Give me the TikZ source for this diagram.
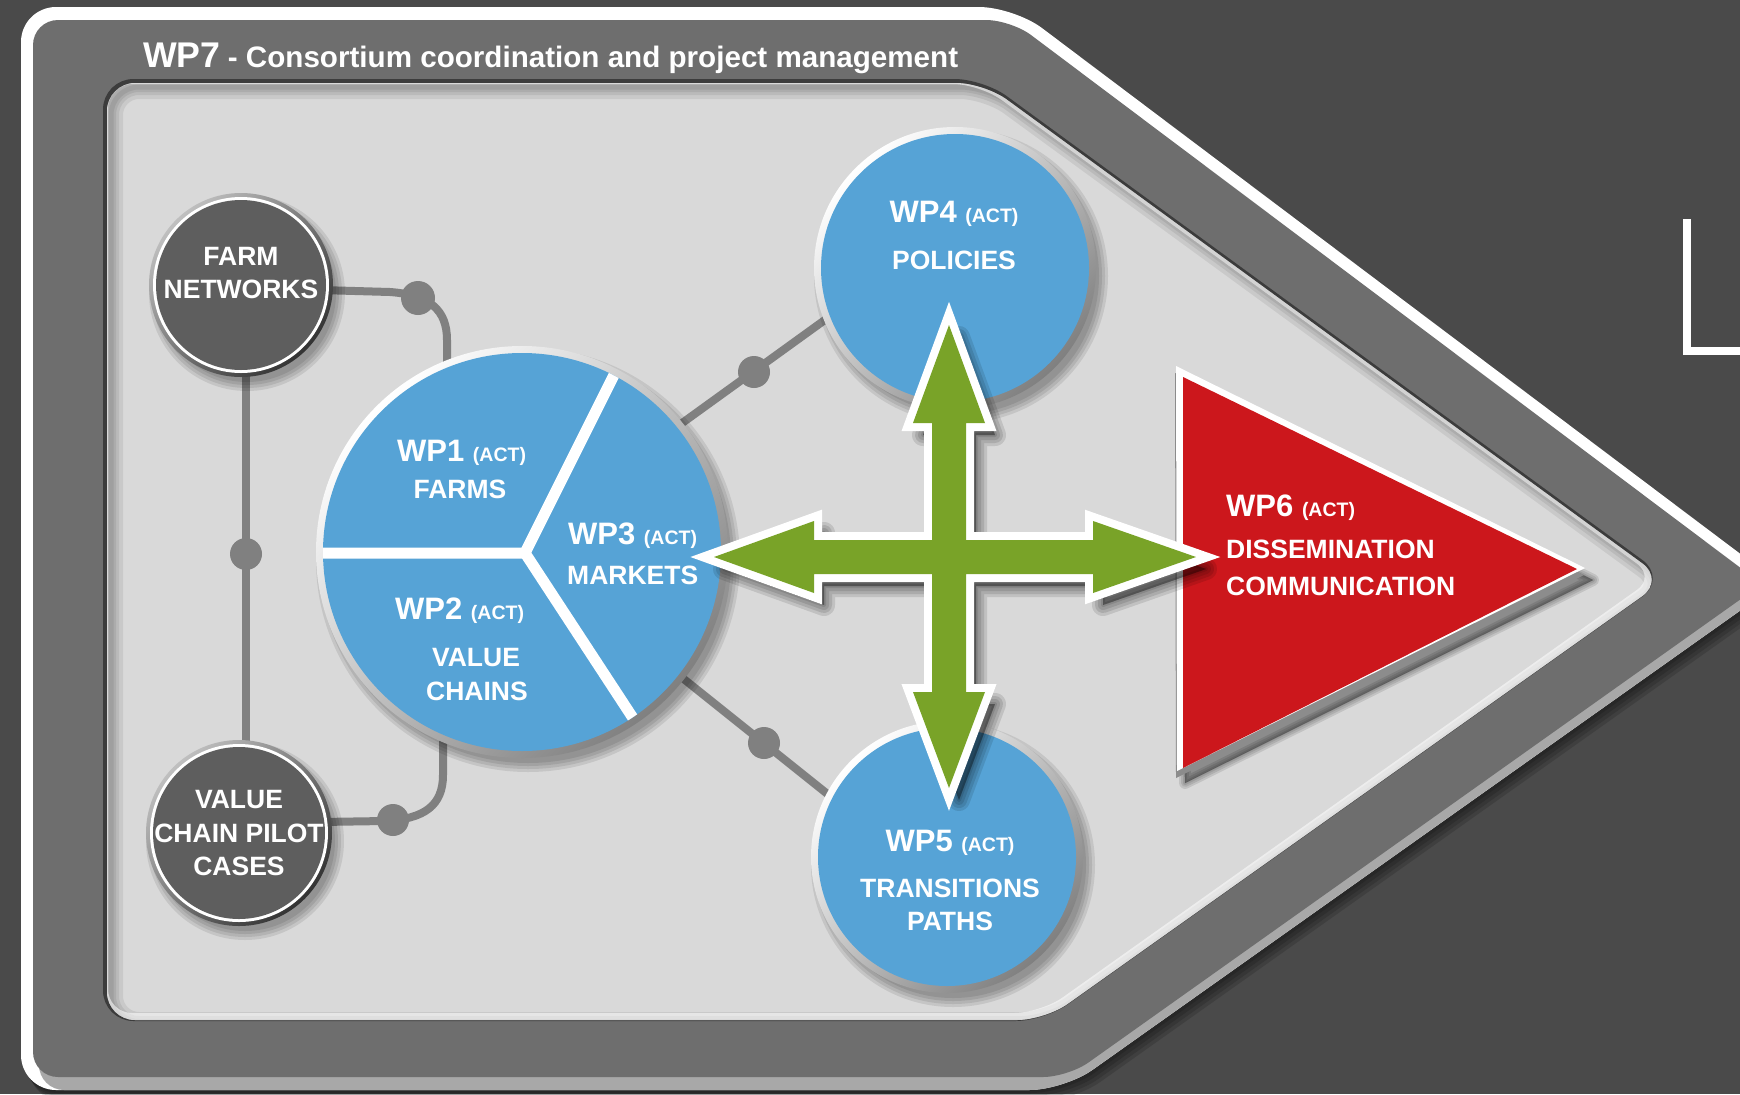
\documentclass[tikz,border=0pt]{standalone}
\usepackage{fontspec}
\setmainfont{Liberation Sans}
\usetikzlibrary{calc}
\definecolor{bgc}{HTML}{4A4A4A}
\definecolor{band}{HTML}{6E6E6E}
\definecolor{bevel}{HTML}{A8A8A8}
\definecolor{panel}{HTML}{D9D9D9}
\definecolor{wpblue}{HTML}{56A3D6}
\definecolor{darkc}{HTML}{5E5E5E}
\definecolor{wpgreen}{HTML}{79A328}
\definecolor{wpred}{HTML}{CC171C}
\definecolor{conn}{HTML}{808080}
\newcommand\bigf{\fontsize{31bp}{31bp}\selectfont}
\newcommand\namef{\fontsize{26.5bp}{26.5bp}\selectfont}
\newcommand\actf{\fontsize{19.5bp}{19.5bp}\selectfont}
\newcommand\wpl[1]{{\bigf #1\ }{\actf (ACT)}}
\newcommand\softshadow[2]{%
  \foreach \w in {10,7,4,1} {\fill[black,opacity=.09] ($(#1)+(6,8)$) circle ({#2+\w-4});}}
\newcommand\wpcirc[3]{%
  \softshadow{#1}{#2}
  \shade[top color=white, bottom color=black!50, shading angle=45] (#1) circle (#2);
  \fill[#3] (#1) circle ({#2-7});}
\newcommand\darkcirc[2]{%
  \softshadow{#1}{#2}
  \shade[top color=black!25, bottom color=black!80, shading angle=45] (#1) circle (#2);
  \fill[white] (#1) circle ({#2-4});
  \fill[darkc] (#1) circle ({#2-7});}
\tikzset{
  outerP/.style={insert path={(21,7) -- (1014,7) -- (1779,583) -- (1064,1090) -- (21,1090) -- cycle}},
  bandP/.style={insert path={(33,20) -- (1011,20) -- (1762,584) -- (1068,1077) -- (33,1077) -- cycle}},
  innerP/.style={insert path={(107,83) -- (984,83) -- (1665,580) -- (1045,1020) -- (107,1020) -- cycle}},
  crossP/.style={insert path={(949,325) -- (985,423) -- (966,423) -- (966,540) -- (1093,540) -- (1093,521) -- (1196,557) -- (1093,593) -- (1093,574) -- (966,574) -- (966,692) -- (985,692) -- (949,788) -- (913,692) -- (932,692) -- (932,574) -- (814,574) -- (814,593) -- (714,557) -- (814,521) -- (814,540) -- (932,540) -- (932,423) -- (913,423) -- cycle}},
  triW/.style={insert path={(1176,366) -- (1585,568) -- (1177,771) -- cycle}},
  triR/.style={insert path={(1183,377) -- (1577,569) -- (1183,768) -- cycle}},
  connector/.style={draw=conn, line width=8bp},
  txt/.style={text=white, inner sep=0pt, font=\bfseries\namef},
}
\begin{document}
\begin{tikzpicture}[x=1bp,y=-1bp]
\useasboundingbox (0,0) rectangle (1740,1094);
\fill[bgc] (0,0) rectangle (1740,1094);
% logo fragment
\draw[white, line width=8bp] (1687,219) -- (1687,351) -- (1745,351);
% outer panel
\foreach \k in {1,2,3,4} {\fill[black,opacity=.14, rounded corners=35bp, shift={({2*\k},{3*\k})}, outerP];}
\fill[white, rounded corners=35bp, outerP];
\begin{scope}
  \clip[rounded corners=35bp, outerP];
  \fill[bevel, rounded corners=25bp, shift={(6,13)}, bandP];
\end{scope}
\fill[band, rounded corners=25bp, bandP];
% title
\node[txt, anchor=base west] (wp7) at (143,67) {{\fontsize{35.7bp}{36bp}\selectfont WP7} {\fontsize{29.6bp}{30bp}\selectfont - Consortium coordination and project management}};
% inner panel
\draw[black, opacity=.45, line width=5bp, rounded corners=28bp, shift={(-1.5,-1.5)}, innerP];
\fill[panel, rounded corners=28bp, innerP];
\begin{scope}
  \clip[rounded corners=28bp, innerP];
  \foreach \w in {24,16,10,5} {\draw[black, opacity=.07, line width=\w bp, rounded corners=28bp, shift={(4,4)}, innerP];}
  \draw[white, opacity=.55, line width=8bp, rounded corners=28bp, shift={(-3,-3)}, innerP];
\end{scope}
% coordinates
\coordinate (fn) at (241,285);
\coordinate (vc) at (239,833);
\coordinate (big) at (522,552);
\coordinate (mid) at (525,553);
\coordinate (wp4c) at (955,268);
\coordinate (wp5c) at (947,857);
\coordinate (fnB) at (246,370);
\coordinate (vcT) at (246,750);
\coordinate (vdot) at (246,554);
\coordinate (fnR) at (320,290);
\coordinate (fdot) at (418,298);
\coordinate (bigT) at (447,380);
\coordinate (vcR) at (320,822);
\coordinate (cdot) at (393,820);
\coordinate (bigB) at (443,735);
\coordinate (c4a) at (660,439);
\coordinate (c4b) at (840,309);
\coordinate (d4) at (754,372);
\coordinate (c5a) at (650,652);
\coordinate (c5b) at (850,812);
\coordinate (d5) at (764,743);
% connectors
\draw[connector] (fnB) -- (vcT);
\fill[conn] (vdot) circle (16);
\draw[connector] (fnR) -- (390,292) .. controls (430,295) and (447,310) .. (447,340) -- (bigT);
\fill[conn] (fdot) circle (17);
\draw[connector] (vcR) -- (385,821) .. controls (425,819) and (443,805) .. (443,775) -- (bigB);
\fill[conn] (cdot) circle (16);
\draw[connector] (c4a) -- (c4b);
\fill[conn] (d4) circle (16);
\draw[connector] (c5a) -- (c5b);
\fill[conn] (d5) circle (16);
% circles
\darkcirc{fn}{92}
\darkcirc{vc}{93}
\wpcirc{big}{206}{wpblue}
\begin{scope}
  \clip (big) circle (199);
  \draw[white, line width=11bp, line join=miter] (300,553) -- (mid) -- (641,321);
  \draw[white, line width=11bp, line join=miter] (mid) -- (667,770);
\end{scope}
\wpcirc{wp4c}{141}{wpblue}
\wpcirc{wp5c}{136}{wpblue}
% texts
\node[txt, anchor=base] (t1) at (241,265) {FARM};
\node[txt, anchor=base] (t2) at (241,298) {NETWORKS};
\node[txt, anchor=base] (t3) at (239,808) {VALUE};
\node[txt, anchor=base] (t4) at (239,842) {CHAIN PILOT};
\node[txt, anchor=base] (t5) at (239,875) {CASES};
\node[txt, anchor=base west] (w1) at (397,461) {\wpl{WP1}};
\node[txt, anchor=base] (w1b) at (460,498) {FARMS};
\node[txt, anchor=base west] (w2) at (395,619) {\wpl{WP2}};
\node[txt, anchor=base] (w2b) at (476,666) {VALUE};
\node[txt, anchor=base] (w2c) at (477,700) {CHAINS};
\node[txt, anchor=base west] (w3) at (568,544) {\wpl{WP3}};
\node[txt, anchor=base west] (w3b) at (567,584) {MARKETS};
\node[txt, anchor=base] (w4) at (954,222) {\wpl{WP4}};
\node[txt, anchor=base] (w4b) at (954,269) {POLICIES};
\node[txt, anchor=base] (w5) at (950,851) {\wpl{WP5}};
\node[txt, anchor=base] (w5b) at (950,897) {TRANSITIONS};
\node[txt, anchor=base] (w5c) at (950,930) {PATHS};
% red triangle
\foreach \w in {12,8,4,1} {\filldraw[black,opacity=.1, line width=\w bp, line join=round, shift={(8,12)}, triW];}
\fill[black!45, shift={(-1,7)}, triW];
\fill[white, triW];
\fill[wpred, triR];
\node[txt, anchor=base west] (w6) at (1226,516) {\wpl{WP6}};
\node[txt, anchor=base west] (w6b) at (1226,558) {DISSEMINATION};
\node[txt, anchor=base west] (w6c) at (1226,595) {COMMUNICATION};
% green cross arrows
\foreach \w in {22,16,10,4} {\filldraw[black,opacity=.11, line width=\w bp, line join=round, shift={(10,12)}, crossP];}
\draw[white, line width=16bp, line join=miter, crossP];
\fill[wpgreen, crossP];
\end{tikzpicture}
\end{document}
